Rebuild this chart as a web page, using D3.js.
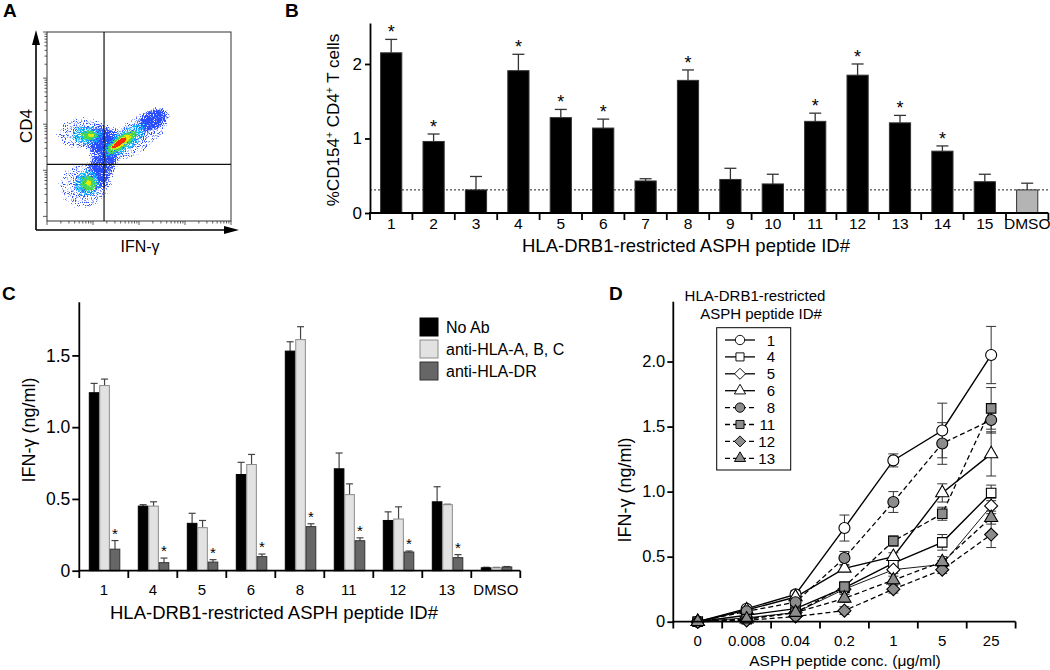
<!DOCTYPE html>
<html><head><meta charset="utf-8">
<script src="https://cdn.jsdelivr.net/npm/d3@7"></script>
<style>
body{margin:0;background:#fff;}
svg{display:block;font-family:"Liberation Sans",Arial,sans-serif;}
</style></head>
<body>
<svg id="fig" width="1050" height="670"></svg>
<script>
// ---------------- DATA ----------------
// Panel A: flow cytometry density blobs (log-decade units)
const aColors = ["#2a4cff", "#00b4ff", "#4cd84c", "#eaea00", "#ff2a00"];
const aPeak   = [0.64, 0.76, 0.88, 0.95, 1.0];
const aBlobs = [
  {layer:0,u:0.80,v:0.66,ru:0.80,rv:0.72,rot:0},
  {layer:0,u:0.78,v:1.80,ru:0.86,rv:0.52,rot:0},
  {layer:0,u:1.95,v:1.76,ru:1.30,rv:0.55,rot:35},
  {layer:0,u:1.22,v:1.30,ru:0.40,rv:0.80,rot:0},
  {layer:0,u:2.30,v:2.10,ru:0.40,rv:0.25,rot:30},
  {layer:1,u:0.88,v:0.72,ru:0.42,rv:0.42,rot:0},
  {layer:1,u:0.88,v:1.76,ru:0.52,rv:0.30,rot:0},
  {layer:1,u:1.68,v:1.64,ru:0.82,rv:0.32,rot:35},
  {layer:2,u:0.90,v:0.72,ru:0.26,rv:0.24,rot:0},
  {layer:2,u:0.92,v:1.76,ru:0.28,rv:0.15,rot:0},
  {layer:2,u:1.62,v:1.61,ru:0.56,rv:0.19,rot:35},
  {layer:3,u:0.90,v:0.72,ru:0.09,rv:0.09,rot:0},
  {layer:3,u:0.95,v:1.76,ru:0.10,rv:0.06,rot:0},
  {layer:3,u:1.60,v:1.60,ru:0.38,rv:0.12,rot:35},
  {layer:4,u:1.58,v:1.60,ru:0.26,rv:0.08,rot:35}
];
const aGateU = 1.24, aGateV = 1.13;
const aDecadesX = [0,1,2,3,4];
const aDecadesY = [0,1,2,3,4];
const aMinor = [2,3,4,5,6,7,8,9];

// Panel B
const bCats = ["1","2","3","4","5","6","7","8","9","10","11","12","13","14","15","DMSO"];
const bVals = [2.15,0.96,0.31,1.91,1.28,1.14,0.43,1.78,0.45,0.39,1.23,1.85,1.21,0.83,0.42,0.31];
const bErr  = [0.18,0.10,0.18,0.22,0.11,0.12,0.03,0.14,0.15,0.13,0.11,0.15,0.10,0.07,0.10,0.09];
const bSig  = [1,1,0,1,1,1,0,1,0,0,1,1,1,1,0,0];
const bBaseline = 0.31;
const bTicks = [0,1,2];

// Panel C
const cCats = ["1","4","5","6","8","11","12","13","DMSO"];
const cSeries = ["No Ab","anti-HLA-A, B, C","anti-HLA-DR"];
const cNoAb     = [1.24,0.45,0.33,0.67,1.53,0.71,0.35,0.48,0.02];
const cNoAbErr  = [0.065,0.01,0.07,0.085,0.065,0.11,0.06,0.105,0.004];
const cAntiABC    = [1.29,0.45,0.30,0.74,1.61,0.53,0.36,0.46,0.02];
const cAntiABCErr = [0.045,0.03,0.05,0.07,0.09,0.075,0.085,0.003,0.003];
const cAntiDR    = [0.15,0.056,0.06,0.098,0.307,0.209,0.13,0.091,0.026];
const cAntiDRErr = [0.06,0.032,0.017,0.018,0.02,0.02,0.007,0.021,0.003];
const cSig = [1,1,1,1,1,1,1,1,0];
const cTicks = [0,0.5,1.0,1.5];

// Panel D
const dConc = ["0","0.008","0.04","0.2","1","5","25"];
const dIds = ["1","4","5","6","8","11","12","13"];
const d1  = [0,0.10,0.21,0.72,1.24,1.47,2.05];
const d4  = [0,0.05,0.10,0.26,0.45,0.61,0.99];
const d5  = [0,0.03,0.07,0.25,0.40,0.44,0.89];
const d6  = [0,0.09,0.19,0.41,0.50,0.99,1.29];
const d8  = [0,0.08,0.15,0.49,0.92,1.37,1.55];
const d11 = [0,0.02,0.07,0.27,0.62,0.83,1.64];
const d12 = [0,0.01,0.04,0.085,0.25,0.40,0.67];
const d13 = [0,0.02,0.07,0.18,0.32,0.46,0.80];
const d1e  = [0.01,0.02,0.03,0.10,0.05,0.21,0.22];
const d4e  = [0,0.01,0.02,0.03,0.03,0.06,0.06];
const d5e  = [0,0.01,0.02,0.02,0.03,0.03,0.06];
const d6e  = [0,0.01,0.02,0.02,0.03,0.07,0.17];
const d8e  = [0,0.01,0.02,0.05,0.08,0.16,0.10];
const d11e = [0,0.01,0.01,0.03,0.04,0.05,0.16];
const d12e = [0,0.005,0.01,0.03,0.03,0.03,0.10];
const d13e = [0,0.01,0.01,0.03,0.03,0.04,0.05];
const dTicks = [0,0.5,1.0,1.5,2.0];

// ---------------- DRAW ----------------
const svg = d3.select("#fig");
svg.append("rect").attr("width",1050).attr("height",670).attr("fill","#fff");
const defs = svg.append("defs");
const FONT = "'Liberation Sans', Arial, sans-serif";

function label(txt,x,y){
  svg.append("text").attr("x",x).attr("y",y).attr("font-size",19).attr("font-weight","bold").text(txt);
}
label("A",3,17); label("B",285,17); label("C",2,300); label("D",609,300);

function styleAxis(g, fs){
  g.selectAll("path,line").attr("stroke","#000").attr("stroke-width",1.8);
  g.selectAll("text").attr("font-size",fs).attr("fill","#000").attr("font-family",FONT);
}

// ===== Panel A =====
(function(){
  const ax = d3.scaleLinear().domain([0,4]).range([47,231]);
  const ay = d3.scaleLinear().domain([-0.1,4]).range([221,32]);
  const pxPerDec = ax(1)-ax(0);
  defs.append("clipPath").attr("id","aClip").append("rect").attr("x",47).attr("y",32).attr("width",184).attr("height",189);
  aColors.forEach((c,i)=>{
    const rg = defs.append("radialGradient").attr("id","aGrad"+i);
    rg.append("stop").attr("offset","0%").attr("stop-color","#000").attr("stop-opacity",aPeak[i]);
    rg.append("stop").attr("offset","60%").attr("stop-color","#000").attr("stop-opacity",aPeak[i]*0.88);
    rg.append("stop").attr("offset","100%").attr("stop-color","#000").attr("stop-opacity",0);
    const f = defs.append("filter").attr("id","sp"+i).attr("filterUnits","userSpaceOnUse")
      .attr("x",40).attr("y",25).attr("width",200).attr("height",205).attr("color-interpolation-filters","sRGB");
    f.append("feTurbulence").attr("type","fractalNoise").attr("baseFrequency",0.9).attr("numOctaves",1).attr("seed",i*7+3).attr("result","noise");
    f.append("feColorMatrix").attr("in","noise").attr("type","matrix")
      .attr("values","0 0 0 0 0  0 0 0 0 0  0 0 0 0 0  1 0 0 0 0").attr("result","na");
    f.append("feComposite").attr("in","na").attr("in2","SourceAlpha").attr("operator","arithmetic")
      .attr("k1",0).attr("k2",8).attr("k3",8).attr("k4",-8.9).attr("result","mask");
    f.append("feFlood").attr("flood-color",c).attr("result","fl");
    f.append("feComposite").attr("in","fl").attr("in2","mask").attr("operator","in");
  });
  const gA = svg.append("g").attr("clip-path","url(#aClip)");
  aColors.forEach((c,i)=>{
    gA.append("g").attr("filter","url(#sp"+i+")")
      .selectAll("ellipse").data(aBlobs.filter(b=>b.layer===i)).join("ellipse")
      .attr("cx",0).attr("cy",0).attr("rx",b=>b.ru*pxPerDec).attr("ry",b=>b.rv*pxPerDec)
      .attr("transform",b=>`translate(${ax(b.u)},${ay(b.v)}) rotate(${-b.rot})`)
      .attr("fill","url(#aGrad"+i+")");
  });
  svg.append("rect").attr("x",47).attr("y",32).attr("width",184).attr("height",189)
    .attr("fill","none").attr("stroke","#333").attr("stroke-width",1);
  svg.append("line").attr("x1",ax(aGateU)).attr("x2",ax(aGateU)).attr("y1",32).attr("y2",221).attr("stroke","#111").attr("stroke-width",1.2);
  svg.append("line").attr("x1",47).attr("x2",231).attr("y1",ay(aGateV)).attr("y2",ay(aGateV)).attr("stroke","#111").attr("stroke-width",1.2);
  const tg = svg.append("g").attr("stroke","#333").attr("stroke-width",0.8);
  aDecadesX.forEach(d=>{
    tg.append("line").attr("x1",ax(d)).attr("x2",ax(d)).attr("y1",221).attr("y2",225);
    if(d<4) aMinor.forEach(m=>{const x=ax(d+Math.log10(m)); tg.append("line").attr("x1",x).attr("x2",x).attr("y1",221).attr("y2",223.5);});
  });
  aDecadesY.forEach(d=>{
    if(d>=0 && ay(d)<=221) tg.append("line").attr("x1",43).attr("x2",47).attr("y1",ay(d)).attr("y2",ay(d));
    if(d<4) aMinor.forEach(m=>{const y=ay(d+Math.log10(m)); if(y<=221) tg.append("line").attr("x1",44.5).attr("x2",47).attr("y1",y).attr("y2",y);});
  });
  svg.append("line").attr("x1",36).attr("x2",36).attr("y1",230).attr("y2",42).attr("stroke","#000").attr("stroke-width",1.6);
  svg.append("path").attr("d","M36,30 L32,45 L40,45 Z").attr("fill","#000");
  svg.append("line").attr("x1",36).attr("x2",226).attr("y1",230).attr("y2",230).attr("stroke","#000").attr("stroke-width",1.6);
  svg.append("path").attr("d","M239,230 L224,226 L224,234 Z").attr("fill","#000");
  svg.append("text").attr("transform","translate(32,126) rotate(-90)").attr("text-anchor","middle")
    .attr("font-size",17).text("CD4");
  svg.append("text").attr("x",140).attr("y",252).attr("text-anchor","middle").attr("font-size",16).text("IFN-γ");
})();

// ===== Panel B =====
(function(){
  const x = d3.scaleBand().domain(bCats).range([370,1048.4]).paddingInner(0.5).paddingOuter(0.25);
  const y = d3.scaleLinear().domain([0,2.55]).range([213,23]);
  const g = svg.append("g");
  g.append("line").attr("x1",370).attr("x2",1048.4).attr("y1",y(bBaseline)).attr("y2",y(bBaseline))
    .attr("stroke","#222").attr("stroke-width",1).attr("stroke-dasharray","2,2");
  const bw = x.bandwidth();
  bCats.forEach((c,i)=>{
    const cx = x(c)+bw/2;
    g.append("line").attr("x1",cx).attr("x2",cx).attr("y1",y(bVals[i])).attr("y2",y(bVals[i]+bErr[i])).attr("stroke","#333").attr("stroke-width",1.3);
    g.append("line").attr("x1",cx-6).attr("x2",cx+6).attr("y1",y(bVals[i]+bErr[i])).attr("y2",y(bVals[i]+bErr[i])).attr("stroke","#333").attr("stroke-width",1.3);
    if(bSig[i]) g.append("text").attr("x",cx).attr("y",y(bVals[i]+bErr[i])-1).attr("text-anchor","middle").attr("font-size",18).text("*");
  });
  g.selectAll("rect.bar").data(bCats).join("rect").attr("class","bar")
    .attr("x",d=>x(d)).attr("width",bw)
    .attr("y",(d,i)=>y(bVals[i])).attr("height",(d,i)=>y(0)-y(bVals[i]))
    .attr("fill",d=>d==="DMSO"?"#b4b4b4":"#000").attr("stroke","#333").attr("stroke-width",1);
  const ya = g.append("g").attr("transform","translate(370,0)")
    .call(d3.axisLeft(y).tickValues(bTicks).tickFormat(d3.format("d")).tickSize(5).tickSizeOuter(0).tickPadding(3));
  styleAxis(ya,17);
  g.append("line").attr("x1",369).attr("x2",1048.4).attr("y1",213).attr("y2",213).attr("stroke","#000").attr("stroke-width",1.8);
  const bounds = bCats.map(c=>x(c)+bw/2-x.step()/2).concat([x(bCats[bCats.length-1])+bw/2+x.step()/2]);
  bounds.forEach(b=>g.append("line").attr("x1",b).attr("x2",b).attr("y1",213).attr("y2",220).attr("stroke","#000").attr("stroke-width",1.8));
  g.selectAll("text.xl").data(bCats).join("text").attr("class","xl")
    .attr("x",d=>x(d)+bw/2).attr("y",228.5).attr("text-anchor","middle").attr("font-size",15.5).text(d=>d);
  g.append("text").attr("x",686).attr("y",252).attr("text-anchor","middle").attr("font-size",18.5)
    .text("HLA-DRB1-restricted ASPH peptide ID#");
  const yt = g.append("text").attr("transform","translate(339,120) rotate(-90)").attr("text-anchor","middle").attr("font-size",17);
  yt.append("tspan").text("%CD154");
  yt.append("tspan").attr("font-size",10.5).attr("dy",-6.5).text("+");
  yt.append("tspan").attr("dy",6.5).text(" CD4");
  yt.append("tspan").attr("font-size",10.5).attr("dy",-6.5).text("+");
  yt.append("tspan").attr("dy",6.5).text(" T cells");
})();

// ===== Panel C =====
(function(){
  const x = d3.scaleBand().domain(cCats).range([79.3,520.3]);
  const xi = d3.scaleBand().domain(cSeries).range([10,40.5]).paddingInner(0.08);
  const y = d3.scaleLinear().domain([0,1.87]).range([570.7,302.3]);
  const vals = [cNoAb,cAntiABC,cAntiDR];
  const errs = [cNoAbErr,cAntiABCErr,cAntiDRErr];
  const fills = ["#000","#e2e2e2","#666"];
  const strokes = ["#000","#8a8a8a","#333"];
  const g = svg.append("g");
  const bw = xi.bandwidth();
  cSeries.forEach((s,si)=>{
    cCats.forEach((c,i)=>{
      const x0 = x(c)+xi(s), cx = x0+bw/2;
      const v = vals[si][i], e = errs[si][i];
      g.append("line").attr("x1",cx).attr("x2",cx).attr("y1",y(v)).attr("y2",y(v+e)).attr("stroke","#444").attr("stroke-width",1.2);
      g.append("line").attr("x1",cx-3.5).attr("x2",cx+3.5).attr("y1",y(v+e)).attr("y2",y(v+e)).attr("stroke","#444").attr("stroke-width",1.2);
      g.append("rect").attr("x",x0).attr("width",bw).attr("y",y(v)).attr("height",y(0)-y(v))
        .attr("fill",fills[si]).attr("stroke",strokes[si]).attr("stroke-width",1);
      if(si===2 && cSig[i]) g.append("text").attr("x",cx).attr("y",y(v+e)-2).attr("text-anchor","middle").attr("font-size",15).text("*");
    });
  });
  const ya = g.append("g").attr("transform","translate(79.3,0)")
    .call(d3.axisLeft(y).tickValues(cTicks).tickFormat(d=>d===0?"0":d.toFixed(1)).tickSize(7).tickSizeOuter(0).tickPadding(2));
  ya.select(".domain").attr("d","M0,"+y(0)+"V302.3");
  styleAxis(ya,17.5);
  g.append("line").attr("x1",78.5).attr("x2",520.3).attr("y1",570.7).attr("y2",570.7).attr("stroke","#000").attr("stroke-width",1.8);
  const bounds = cCats.map(c=>x(c)).concat([x(cCats[cCats.length-1])+x.step()]);
  bounds.forEach(b=>g.append("line").attr("x1",b).attr("x2",b).attr("y1",570.7).attr("y2",578).attr("stroke","#000").attr("stroke-width",1.8));
  g.selectAll("text.xl").data(cCats).join("text").attr("class","xl")
    .attr("x",d=>x(d)+x.step()/2).attr("y",595).attr("text-anchor","middle").attr("font-size",15).text(d=>d);
  g.append("text").attr("x",274).attr("y",619).attr("text-anchor","middle").attr("font-size",18.5)
    .text("HLA-DRB1-restricted ASPH peptide ID#");
  g.append("text").attr("transform","translate(35,430) rotate(-90)").attr("text-anchor","middle").attr("font-size",18)
    .text("IFN-γ (ng/ml)");
  cSeries.forEach((s,si)=>{
    const ly = 318 + si*22;
    g.append("rect").attr("x",420).attr("y",ly).attr("width",18).attr("height",18).attr("fill",fills[si]).attr("stroke",strokes[si]);
    g.append("text").attr("x",446).attr("y",ly+15).attr("font-size",16).text(s);
  });
})();

// ===== Panel D =====
(function(){
  const x = d3.scaleBand().domain(dConc).range([673.3,1015.6]);
  const y = d3.scaleLinear().domain([0,2.46]).range([621.7,301.7]);
  const series = [d1,d4,d5,d6,d8,d11,d12,d13];
  const errs = [d1e,d4e,d5e,d6e,d8e,d11e,d12e,d13e];
  const shapes = ["circle","square","diamond","triangle","circle","square","diamond","triangle"];
  const dashed = [false,false,false,false,true,true,true,true];
  const widths = [1.4,1.4,0.9,1.4,1.3,1.3,1.3,1.3];
  const fillsD = dashed.map(d=>d?"#8c8c8c":"#fff");
  function shapePath(s){
    if(s==="circle") return d3.symbol(d3.symbolCircle,95)();
    if(s==="square") return d3.symbol(d3.symbolSquare,90)();
    if(s==="diamond") return "M0,-6.5L6.5,0L0,6.5L-6.5,0Z";
    return d3.symbol(d3.symbolTriangle,75)();
  }
  const g = svg.append("g");
  const cx = c=>x(c)+x.step()/2;
  const line = d3.line().x((d,i)=>cx(dConc[i])).y(d=>y(d));
  series.forEach((s,si)=>{
    g.append("path").attr("d",line(s)).attr("fill","none").attr("stroke","#000")
      .attr("stroke-width",widths[si]).attr("stroke-dasharray",dashed[si]?"5,3":null);
  });
  series.forEach((s,si)=>{
    s.forEach((v,i)=>{
      const e = errs[si][i]; if(e<=0.012) return;
      const xx = cx(dConc[i]);
      g.append("line").attr("x1",xx).attr("x2",xx).attr("y1",y(v-e)).attr("y2",y(v+e)).attr("stroke","#333").attr("stroke-width",1);
      [v-e,v+e].forEach(t=>g.append("line").attr("x1",xx-5).attr("x2",xx+5).attr("y1",y(t)).attr("y2",y(t)).attr("stroke","#333").attr("stroke-width",1));
    });
  });
  series.forEach((s,si)=>{
    g.selectAll(null).data(s).join("path")
      .attr("d",shapePath(shapes[si]))
      .attr("transform",(d,i)=>`translate(${cx(dConc[i])},${y(d)})`)
      .attr("fill",fillsD[si]).attr("stroke","#000").attr("stroke-width",1.1);
  });
  const ya = g.append("g").attr("transform","translate(673.3,0)")
    .call(d3.axisLeft(y).tickValues(dTicks).tickFormat(d=>d===0?"0":d.toFixed(1)).tickSize(6).tickSizeOuter(0).tickPadding(2));
  ya.select(".domain").attr("d","M0,"+y(0)+"V301.7");
  styleAxis(ya,16.5);
  g.append("line").attr("x1",672.5).attr("x2",1015.6).attr("y1",621.7).attr("y2",621.7).attr("stroke","#000").attr("stroke-width",1.8);
  const bounds = dConc.map(c=>x(c)).concat([x(dConc[dConc.length-1])+x.step()]);
  bounds.forEach(b=>g.append("line").attr("x1",b).attr("x2",b).attr("y1",621.7).attr("y2",628.5).attr("stroke","#000").attr("stroke-width",1.8));
  g.selectAll("text.xl").data(dConc).join("text").attr("class","xl")
    .attr("x",d=>cx(d)).attr("y",646).attr("text-anchor","middle").attr("font-size",15).text(d=>d);
  g.append("text").attr("x",845).attr("y",665.5).attr("text-anchor","middle").attr("font-size",15.5)
    .text("ASPH peptide conc. (μg/ml)");
  g.append("text").attr("transform","translate(631,490) rotate(-90)").attr("text-anchor","middle").attr("font-size",18)
    .text("IFN-γ (ng/ml)");
  g.append("text").attr("x",755).attr("y",300.5).attr("text-anchor","middle").attr("font-size",15).text("HLA-DRB1-restricted");
  g.append("text").attr("x",761).attr("y",319).attr("text-anchor","middle").attr("font-size",15).text("ASPH peptide ID#");
  g.append("rect").attr("x",716.7).attr("y",327.7).attr("width",74).attr("height",142.3).attr("fill","#fff").attr("stroke","#000").attr("stroke-width",1);
  dIds.forEach((id,i)=>{
    const ly = 340 + i*16.9;
    g.append("line").attr("x1",725).attr("x2",755).attr("y1",ly).attr("y2",ly).attr("stroke","#000")
      .attr("stroke-width",1.3).attr("stroke-dasharray",dashed[i]?"5,3":null);
    g.append("path").attr("d",shapePath(shapes[i])).attr("transform",`translate(740,${ly}) scale(0.85)`)
      .attr("fill",fillsD[i]).attr("stroke","#000").attr("stroke-width",1.1);
    g.append("text").attr("x",775).attr("y",ly+5.5).attr("text-anchor","end").attr("font-size",15).text(id);
  });
})();
</script>
</body></html>
